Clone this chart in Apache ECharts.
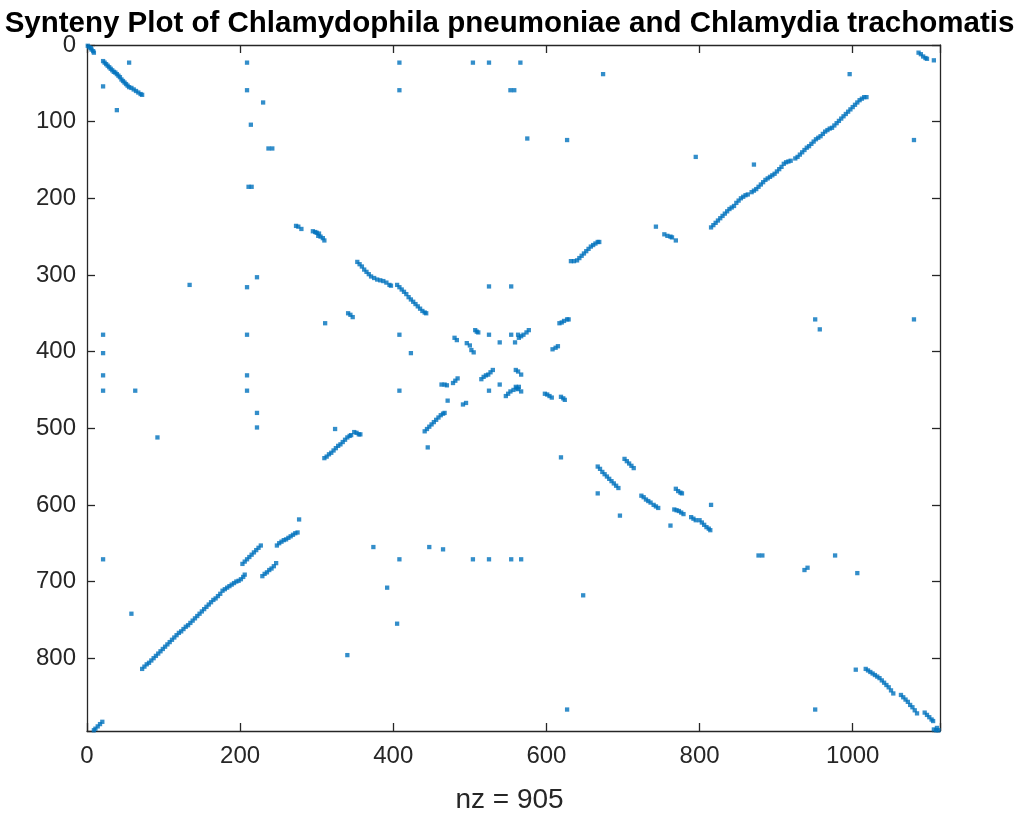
<!DOCTYPE html>
<html><head><meta charset="utf-8">
<script src="https://cdn.jsdelivr.net/npm/echarts@6/dist/echarts.min.js"></script>
<style>html,body{margin:0;padding:0;background:#fff}#c{width:1019px;height:813px}</style>
</head><body><div id="c"></div>
<script>
const titleText = 'Synteny Plot of Chlamydophila pneumoniae and Chlamydia trachomatis';
const xLabelText = 'nz = 905';
const xTicks = [0, 200, 400, 600, 800, 1000];
const yTicks = [0, 100, 200, 300, 400, 500, 600, 700, 800];
const xMax = 1114;
const yMax = 895;

// [column, row] pairs of the nonzero entries
const originCluster = [[1,1],[3,3],[5,4],[6,6],[8,8],[9,10]];
const topLeftDiag = [[21,21],[23,23],[25,25],[27,27],[29,29],[31,31],[33,33],[35,35],[37,36],[39,38],[41,40],[43,42],[45,45],[47,47],[49,49],[51,51],[53,53],[55,55],[58,56],[61,58],[64,60],[67,62],[70,64],[72,65]];
const upperRightDiag = [[815,238],[818,235],[821,232],[824,229],[827,226],[830,223],[833,220],[836,217],[839,214],[842,212],[845,210],[848,206],[851,203],[854,200],[857,198],[860,196],[863,195],[868,192],[871,190],[874,188],[877,185],[880,182],[883,179],[886,176],[889,174],[892,172],[895,170],[898,168],[901,165],[904,162],[907,159],[910,155],[913,153],[916,152],[919,151],[925,148],[928,146],[931,143],[934,140],[937,137],[940,134],[943,132],[946,129],[949,126],[952,123],[955,121],[958,119],[961,116],[964,113],[967,111],[970,109],[973,108],[976,105],[979,102],[982,99],[985,96],[988,93],[991,90],[994,87],[997,84],[1000,81],[1003,78],[1006,75],[1009,72],[1012,70],[1015,68],[1018,68]];
const lowerLeftDiag = [[72,814],[75,811],[78,808],[81,806],[84,803],[87,800],[90,797],[93,794],[96,791],[99,788],[102,785],[105,782],[108,779],[111,776],[114,773],[117,770],[120,767],[123,765],[126,762],[129,759],[132,757],[135,754],[138,751],[141,748],[144,745],[147,742],[150,739],[153,736],[156,733],[159,730],[162,727],[165,724],[168,722],[171,719],[174,716],[177,712],[180,710],[183,708],[186,706],[189,704],[192,702],[195,700],[198,699],[201,697],[204,694],[206,691],
  [203,677],[206,674],[209,671],[212,668],[215,665],[218,662],[221,659],[224,656],[227,653],
  [229,693],[232,690],[235,688],[238,685],[241,683],[244,680],[247,676],
  [248,653],[251,650],[254,648],[257,646],[260,645],[263,643],[266,641],[269,639],[272,637],[275,636]];
const lowerRightDiag = [[1017,814],[1020,816],[1023,818],[1026,820],[1029,822],[1032,824],[1035,826],[1038,829],[1041,832],[1044,835],[1047,838],[1050,842],[1053,846],[1063,848],[1066,851],[1069,854],[1072,857],[1075,861],[1078,864],[1081,868],[1084,872],[1094,871],[1097,874],[1100,877],[1103,880],[1105,882],[1106,893],[1109,894],[1112,894],[1110,891]];
const bottomLeftCorner = [[9,894],[11,892],[14,889],[17,886],[20,883]];
const centerSegments = [
  [353,283],[356,286],[359,289],[362,293],[365,296],[368,299],[371,302],[375,304],[379,306],[383,307],[387,308],[391,310],[395,313],[397,314],
  [405,313],[408,316],[411,319],[414,322],[417,325],[420,329],[423,332],[426,335],[429,338],[432,341],[435,344],[438,347],[441,349],[443,350],
  [441,504],[444,501],[447,498],[450,495],[453,492],[456,489],[459,486],[462,483],[465,481],[467,480],
  [310,539],[313,537],[316,534],[319,532],[322,529],[325,526],[328,523],[331,521],[334,518],[337,515],[340,512],[343,510],[345,509],
  [632,282],[636,282],[640,281],[643,278],[646,275],[649,272],[652,269],[655,266],[658,263],[661,261],[664,259],[667,257],[669,257],
  [667,550],[670,553],[673,557],[676,560],[679,563],[682,566],[685,569],[688,572],[691,575],[694,578],
  [702,540],[705,543],[708,546],[711,549],[714,552],
  [724,588],[727,590],[730,593],[733,595],[736,597],[740,600],[743,602],[746,604]];
const smallClusters = [
  [273,236],[276,237],[280,240],
  [295,243],[298,244],[300,245],[303,246],[302,249],[305,250],[308,252],[310,255],
  [754,247],[758,249],[762,250],[764,251],
  [1086,10],[1089,12],[1092,15],[1095,17],[1097,18],
  [341,350],[344,352],[347,355],
  [507,372],[509,374],[511,375],
  [480,382],[483,385],[496,389],[500,392],[502,398],[505,401],
  [515,436],[518,433],[521,431],[524,430],[527,427],[530,424],
  [547,458],[550,455],[553,452],[557,450],[561,448],[564,446],
  [478,441],[481,438],[484,435],
  [463,443],[467,443],[470,444],
  [491,469],[495,467],
  [349,505],[352,506],[355,508],[357,508],
  [617,363],[620,362],[623,360],[627,358],[629,358],
  [564,382],[567,380],[570,378],[574,375],[577,372],
  [608,397],[612,395],[615,393],
  [560,424],[563,426],[567,430],
  [560,446],[563,449],[567,452],
  [598,455],[601,456],[604,458],[607,460],
  [619,459],[622,461],[624,463],
  [769,579],[772,582],[775,584],[777,585],
  [767,606],[770,607],[773,608],[776,610],[779,612],
  [789,616],[792,618],[795,620],
  [800,620],[803,623],[806,626],[809,629],[812,631],[814,633],
  [877,666],[882,666],
  [937,685],[941,682],
  [237,135],[242,135],[211,185],[215,185],[553,59],[558,59]];
const isolatedPoints = [
  [55,23],[21,54],[39,85],[209,23],[209,59],[230,75],[214,104],
  [408,23],[408,59],[504,23],[525,23],[566,23],
  [674,38],[575,122],[627,124],[795,146],[743,237],[769,255],
  [871,156],[996,38],[1080,124],[1106,20],
  [222,303],[134,313],[209,316],[21,378],[209,378],[21,402],[21,431],[209,431],[21,451],[63,451],[209,451],[222,480],[222,499],[92,512],
  [311,363],[408,378],[423,402],[408,451],[525,315],[554,315],[525,378],[554,378],[563,378],[539,388],[559,388],[525,451],[539,443],[471,464],[445,525],[324,501],
  [619,538],[667,585],[815,600],[696,614],[762,627],[567,671],[648,718],[627,867],
  [277,619],[374,655],[408,671],[447,655],[465,658],[504,671],[525,671],[554,671],[392,708],[405,755],[340,796],
  [21,671],[58,742],
  [977,666],[1006,689],[951,867],[1004,815],
  [951,358],[957,371],[1080,358]];

const allPoints = [].concat(originCluster, topLeftDiag, upperRightDiag, lowerLeftDiag,
  lowerRightDiag, bottomLeftCorner, centerSegments, smallClusters, isolatedPoints);

const FONT = '"Liberation Sans", Arial, Helvetica, sans-serif';
const AX = '#262626';

function xAxisCfg(pos, showLabel) {
  return {
    type: 'value', position: pos, min: 0, max: xMax, interval: 200,
    axisLine: { show: true, onZero: false, lineStyle: { color: AX, width: 1.3 } },
    axisTick: { show: true, inside: true, length: 8, lineStyle: { color: AX, width: 1.3 } },
    axisLabel: { show: showLabel, color: AX, fontSize: 24, fontFamily: FONT, margin: 13,
      formatter: v => xTicks.includes(v) ? String(v) : '' },
    splitLine: { show: false }
  };
}
function yAxisCfg(pos, showLabel) {
  return {
    type: 'value', position: pos, min: 0, max: yMax, interval: 100, inverse: true,
    axisLine: { show: true, onZero: false, lineStyle: { color: AX, width: 1.3 } },
    axisTick: { show: true, inside: true, length: 8, lineStyle: { color: AX, width: 1.3 } },
    axisLabel: { show: showLabel, color: AX, fontSize: 24, fontFamily: FONT, margin: 11,
      formatter: v => yTicks.includes(v) ? String(v) : '' },
    splitLine: { show: false }
  };
}

const chart = echarts.init(document.getElementById('c'), null, { renderer: 'canvas' });
chart.setOption({
  animation: false,
  backgroundColor: '#ffffff',
  title: {
    text: titleText, left: 'center', top: 4,
    textStyle: { fontSize: 29.5, fontWeight: 'bold', color: '#000', fontFamily: FONT }
  },
  grid: { left: 87, top: 45, width: 853, height: 686, containLabel: false },
  xAxis: [xAxisCfg('bottom', true), xAxisCfg('top', false)],
  yAxis: [yAxisCfg('left', true), yAxisCfg('right', false)],
  graphic: [{
    type: 'text', left: 'center', top: 786,
    style: { text: xLabelText, fontSize: 28, fontFamily: FONT, fill: AX }
  }],
  series: [{
    type: 'scatter', xAxisIndex: 0, yAxisIndex: 0,
    symbol: 'rect', symbolSize: 4.3,
    itemStyle: { color: '#0072BD' },
    data: allPoints
  }]
});
</script></body></html>
